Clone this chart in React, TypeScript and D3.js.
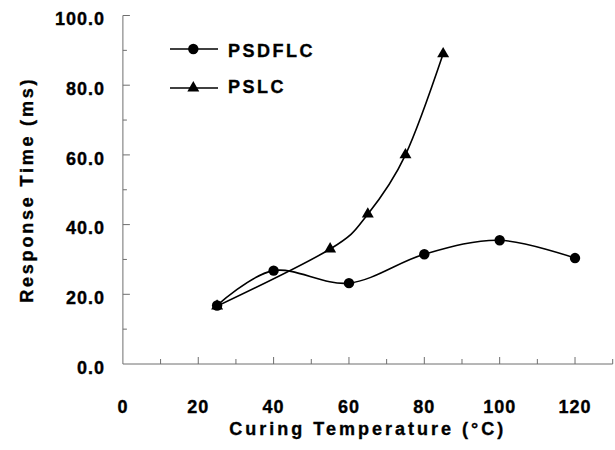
import React from 'react';
import * as d3 from 'd3';

// data
const psdflcTemps = [25, 40, 60, 80, 100, 120];
const psdflcValues = [16.8, 26.8, 23.2, 31.5, 35.5, 30.4];
const pslcTemps = [25, 55, 65, 75, 85];
const pslcValues = [16.6, 33, 43, 60, 89];
const xTickLabels = [0, 20, 40, 60, 80, 100, 120];
const yTickLabels = [0, 20, 40, 60, 80, 100];
const seriesNames = ['PSDFLC', 'PSLC'];

const W = 615;
const H = 450;
const FONT = "'Liberation Sans', Arial, Helvetica, sans-serif";
const AXIS = '#6e6e6e';

const App = () => {
  const x = d3.scaleLinear().domain([0, 130]).range([122.9, 612.7]);
  const y = d3.scaleLinear().domain([0, 100]).range([364, 15.5]);

  const line = d3
    .line<[number, number]>()
    .x(d => x(d[0]))
    .y(d => y(d[1]))
    .curve(d3.curveCatmullRom.alpha(0));

  const s1: [number, number][] = psdflcTemps.map((t, i) => [t, psdflcValues[i]]);
  const s2: [number, number][] = pslcTemps.map((t, i) => [t, pslcValues[i]]);

  const xMinor = d3.range(10, 131, 10);
  const yMinor = d3.range(10, 100, 10);
  const tri = d3.symbol().type(d3.symbolTriangle).size(62)();

  return (
    <svg width={W} height={H} style={{ position: 'absolute', left: 0, top: 0, background: '#fff' }}>
      <g fontFamily={FONT} fontWeight="bold" fill="#000">
        {/* axes */}
        <line x1={x(0)} x2={x(0)} y1={y(0)} y2={y(100)} stroke={AXIS} />
        <line x1={x(0)} x2={x(130)} y1={y(0)} y2={y(0)} stroke={AXIS} />
        {yMinor.map(v => (
          <line key={'ym' + v} x1={x(0)} x2={x(0) + (v % 20 === 0 ? 7 : 4)} y1={y(v)} y2={y(v)} stroke={AXIS} />
        ))}
        <line x1={x(0)} x2={x(0) + 7} y1={y(100)} y2={y(100)} stroke={AXIS} />
        {xMinor.map(v => (
          <line key={'xm' + v} x1={x(v)} x2={x(v)} y1={y(0)} y2={y(0) - (v % 20 === 0 ? 7 : 5)} stroke={AXIS} />
        ))}

        <g stroke="#000" strokeWidth={0.35}>
          {/* tick labels */}
          {yTickLabels.map(v => (
            <text key={'yl' + v} x={105} y={y(v) + 9.7} textAnchor="end" fontSize={18} letterSpacing={1}>
              {v.toFixed(1)}
            </text>
          ))}
          {xTickLabels.map(v => (
            <text key={'xl' + v} x={x(v)} y={413} textAnchor="middle" fontSize={18} letterSpacing={1}>
              {v}
            </text>
          ))}

          {/* axis titles */}
          <text x={x(65)} y={435} textAnchor="middle" fontSize={18} letterSpacing={3}>
            Curing Temperature  (°C)
          </text>
          <text
            transform={`translate(33, ${y(50)}) rotate(-90)`}
            textAnchor="middle"
            fontSize={18}
            letterSpacing={2.8}
          >
            Response Time (ms)
          </text>

          {/* legend labels */}
          <text x={228} y={56.7} fontSize={18} letterSpacing={2.5}>{seriesNames[0]}</text>
          <text x={228} y={93.3} fontSize={18} letterSpacing={2.5}>{seriesNames[1]}</text>
        </g>

        {/* series */}
        <path d={line(s1) || ''} fill="none" stroke="#000" strokeWidth={1.6} />
        <path d={line(s2) || ''} fill="none" stroke="#000" strokeWidth={1.6} />
        {s1.map((d, i) => (
          <circle key={'c' + i} cx={x(d[0])} cy={y(d[1])} r={5.2} fill="#000" />
        ))}
        {s2.map((d, i) => (
          <path key={'t' + i} d={tri || ''} transform={`translate(${x(d[0])}, ${y(d[1])})`} fill="#000" />
        ))}

        {/* legend marks */}
        <line x1={170} x2={218} y1={49} y2={49} stroke="#000" strokeWidth={1.6} />
        <circle cx={193.3} cy={49} r={5.2} fill="#000" />
        <line x1={170} x2={218} y1={88} y2={88} stroke="#000" strokeWidth={1.6} />
        <path d={tri || ''} transform="translate(193.3, 88)" fill="#000" />
      </g>
    </svg>
  );
};

export default App;
